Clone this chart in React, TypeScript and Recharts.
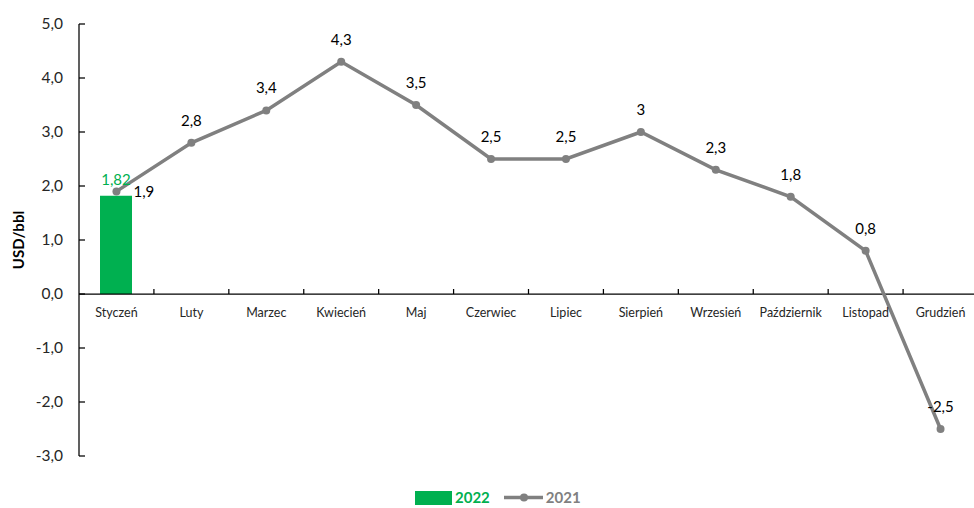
import { ComposedChart, Bar, Line, XAxis, YAxis, Legend, LabelList, ReferenceLine } from 'recharts';

const months = ['Styczeń', 'Luty', 'Marzec', 'Kwiecień', 'Maj', 'Czerwiec', 'Lipiec', 'Sierpień', 'Wrzesień', 'Październik', 'Listopad', 'Grudzień'];
const values2022 = [1.82, null, null, null, null, null, null, null, null, null, null, null];
const values2021 = [1.9, 2.8, 3.4, 4.3, 3.5, 2.5, 2.5, 3, 2.3, 1.8, 0.8, -2.5];
const yTicks = [-3, -2, -1, 0, 1, 2, 3, 4, 5];

const Y_MIN = -3;
const Y_MAX = 5;
const CHART_W = 990;
const CHART_H = 508;
const MARGIN = { top: 24, right: 12, left: 0, bottom: 0 };
const AXIS_W = 79;
const PLOT_H = 432;
const CAT_W = (CHART_W - MARGIN.left - MARGIN.right - AXIS_W) / months.length;

const GREEN = '#00B050';
const GREY = '#808080';
const FONT = 'Lato, "Open Sans", sans-serif';

const data = months.map((m, i) => ({ month: m, y2022: values2022[i], y2021: values2021[i] }));

const comma = (v: number) => String(v).replace('.', ',');

// category labels sit on the zero line, like Excel does it
const MonthTick = ({ x, y, payload }: any) => {
  const y0 = y - (PLOT_H * (0 - Y_MIN)) / (Y_MAX - Y_MIN);
  return (
    <g>
      <line x1={x + CAT_W / 2} x2={x + CAT_W / 2} y1={y0 - 5} y2={y0} stroke="#000" strokeWidth={1.25} />
      <text x={x} y={y0 + 23} textAnchor="middle" fontSize={12.5} fill="#262626" fontFamily={FONT}>
        {payload.value}
      </text>
    </g>
  );
};

const ValueTick = ({ x, y, payload }: any) => (
  <g>
    <line x1={x + 16} x2={x + 22} y1={y} y2={y} stroke="#000" strokeWidth={1.25} />
    <text x={x} y={y + 5} textAnchor="end" fontSize={15.5} fill="#262626" fontFamily={FONT}>
      {payload.value.toFixed(1).replace('.', ',')}
    </text>
  </g>
);

const LineLabel = ({ x, y, value, index }: any) => {
  if (index === 0) {
    return (
      <text x={x + 17} y={y + 6} fontSize={15} fill="#000" fontFamily={FONT}>
        {comma(value)}
      </text>
    );
  }
  return (
    <text x={x} y={y - 17} textAnchor="middle" fontSize={15} fill="#000" fontFamily={FONT}>
      {comma(value)}
    </text>
  );
};

const BarLabel = ({ x, y, width, value }: any) => {
  if (value == null) return null;
  return (
    <text x={x + width / 2} y={y - 11} textAnchor="middle" fontSize={15} fill={GREEN} fontFamily={FONT}>
      {comma(value)}
    </text>
  );
};

const LegendContent = () => (
  <div style={{ display: 'flex', alignItems: 'center', fontFamily: FONT, fontWeight: 700, fontSize: 15, lineHeight: '17px' }}>
    <div style={{ width: 37, height: 14, background: GREEN }} />
    <span style={{ color: GREEN, marginLeft: 3 }}>2022</span>
    <svg width={40} height={15} style={{ marginLeft: 14 }}>
      <line x1={0} x2={39} y1={7.5} y2={7.5} stroke={GREY} strokeWidth={3.5} />
      <circle cx={20} cy={7.5} r={4} fill={GREY} />
    </svg>
    <span style={{ color: GREY, marginLeft: 2 }}>2021</span>
  </div>
);

export default function App() {
  return (
    <div style={{ position: 'fixed', left: 0, top: 0, width: 974, height: 508, overflow: 'hidden', background: '#fff' }}>
      <ComposedChart width={CHART_W} height={CHART_H} data={data} margin={MARGIN}>
        <XAxis
          dataKey="month"
          axisLine={false}
          tickLine={false}
          tickSize={0}
          tickMargin={0}
          height={30}
          interval={0}
          tick={<MonthTick />}
        />
        <YAxis
          domain={[Y_MIN, Y_MAX]}
          ticks={yTicks}
          width={AXIS_W}
          tickSize={0}
          tickMargin={16}
          tickLine={false}
          axisLine={{ stroke: '#000', strokeWidth: 1.25 }}
          tick={<ValueTick />}
          label={{
            content: (props: any) => {
              const vb = props.viewBox;
              const cx = vb.x + 18;
              const cy = vb.y + vb.height / 2;
              return (
                <text x={cx} y={cy} transform={`rotate(-90 ${cx} ${cy})`} textAnchor="middle" dominantBaseline="central" fontSize={15} fontWeight={700} fill="#000" fontFamily={FONT}>
                  USD/bbl
                </text>
              );
            },
          }}
        />
        <ReferenceLine y={0} stroke="#000" strokeWidth={1.25} />
        <Legend verticalAlign="bottom" height={22} content={<LegendContent />} wrapperStyle={{ left: 415, top: 489, width: 220 }} />
        <Bar dataKey="y2022" name="2022" fill={GREEN} barSize={32} isAnimationActive={false}>
          <LabelList dataKey="y2022" content={<BarLabel />} />
        </Bar>
        <Line
          dataKey="y2021"
          name="2021"
          stroke={GREY}
          strokeWidth={3.5}
          dot={{ r: 4, fill: GREY, stroke: GREY, strokeWidth: 0 }}
          isAnimationActive={false}
        >
          <LabelList dataKey="y2021" content={<LineLabel />} />
        </Line>
      </ComposedChart>
    </div>
  );
}
